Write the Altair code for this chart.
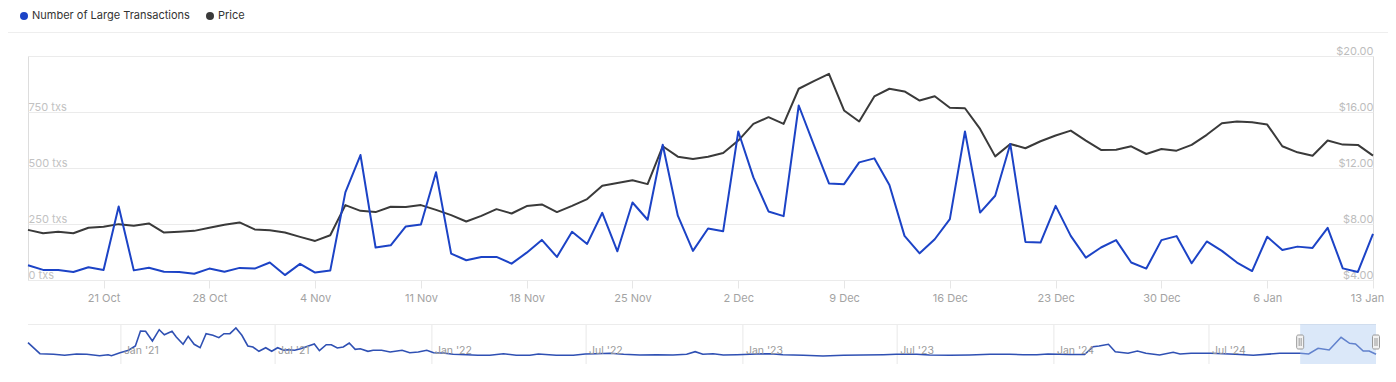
import altair as alt
import pandas as pd

# ---------------- data ----------------
dates = pd.date_range("2024-10-16", "2025-01-13", freq="D").strftime("%Y-%m-%d").tolist()

large_tx = [66, 45, 45, 36, 57, 45, 328, 43, 55, 37,
            36, 28, 51, 37, 54, 51, 78, 22, 72, 33,
            42, 391, 558, 145, 155, 239, 248, 481, 118, 88,
            103, 103, 73, 122, 179, 103, 215, 161, 300, 128,
            346, 269, 604, 287, 130, 230, 218, 663, 458, 306,
            285, 779, 603, 431, 428, 525, 543, 424, 197, 119,
            182, 272, 663, 301, 376, 607, 170, 167, 331, 197,
            100, 145, 178, 78, 51, 178, 196, 75, 172, 130,
            78, 40, 193, 134, 149, 143, 233, 52, 36, 206]

price = [7.58, 7.34, 7.44, 7.34, 7.73, 7.80, 7.99, 7.87, 8.04, 7.39,
         7.44, 7.51, 7.73, 7.94, 8.11, 7.61, 7.56, 7.39, 7.08, 6.79,
         7.20, 9.35, 8.94, 8.85, 9.23, 9.21, 9.35, 9.01, 8.63, 8.18,
         8.58, 9.06, 8.75, 9.28, 9.40, 8.85, 9.30, 9.78, 10.73, 10.93,
         11.12, 10.85, 13.55, 12.81, 12.64, 12.81, 13.07, 13.96, 15.15, 15.63,
         15.15, 17.66, 18.21, 18.73, 16.11, 15.32, 17.11, 17.66, 17.47, 16.82,
         17.13, 16.30, 16.27, 14.79, 12.83, 13.72, 13.41, 13.91, 14.32, 14.67,
         13.96, 13.29, 13.31, 13.55, 13.00, 13.36, 13.24, 13.65, 14.37, 15.20,
         15.32, 15.27, 15.10, 13.55, 13.12, 12.88, 13.96, 13.67, 13.65, 12.88]

series_names = ["Number of Large Transactions", "Price"]
series_colors = ["#1c43c6", "#3a3a3a"]

x_tick_dates = ["2024-10-21", "2024-10-28", "2024-11-04", "2024-11-11", "2024-11-18",
                "2024-11-25", "2024-12-02", "2024-12-09", "2024-12-16", "2024-12-23",
                "2024-12-30", "2025-01-06", "2025-01-13"]
tx_ticks = [0, 250, 500, 750, 1000]
price_ticks = [4, 8, 12, 16, 20]

# navigator (full history, coarse)
nav_start = "2020-09-14"
nav_end = "2025-01-13"
nav_offset_days = [0, 14, 30, 43, 57, 69, 84, 94, 98, 108,
                   118, 126, 132, 138, 146, 154, 160, 169, 174, 182,
                   188, 195, 202, 209, 217, 224, 230, 237, 244, 251,
                   258, 264, 271, 279, 286, 293, 300, 305, 313, 320,
                   329, 336, 342, 350, 356, 363, 370, 377, 384, 390,
                   399, 405, 415, 425, 439, 448, 458, 468, 476, 487,
                   499, 515, 528, 542, 558, 573, 589, 599, 620, 640,
                   654, 667, 683, 699, 718, 738, 757, 773, 783, 792,
                   804, 816, 832, 855, 871, 886, 910, 933, 957, 980,
                   1004, 1019, 1043, 1058, 1082, 1105, 1129, 1152, 1168, 1184,
                   1197, 1223, 1240, 1250, 1257, 1268, 1276, 1291, 1302, 1312,
                   1328, 1344, 1352, 1365, 1388, 1417, 1438, 1469, 1493, 1503,
                   1514, 1527, 1541, 1551, 1558, 1567, 1574, 1582]
nav_value = [592, 152, 128, 88, 140, 128, 72, 112, 72, 192,
             288, 460, 1060, 1048, 660, 1112, 912, 1048, 820, 528,
             848, 528, 392, 952, 888, 792, 952, 952, 1180, 888,
             460, 420, 248, 392, 248, 392, 288, 312, 288, 352,
             460, 540, 272, 512, 512, 380, 420, 580, 328, 352,
             248, 288, 288, 220, 288, 192, 220, 288, 192, 180,
             128, 112, 88, 88, 152, 88, 88, 140, 88, 88,
             140, 152, 168, 128, 100, 112, 100, 128, 232, 128,
             152, 100, 112, 140, 152, 112, 88, 60, 88, 100,
             112, 128, 128, 100, 88, 100, 128, 128, 112, 112,
             140, 120, 120, 432, 460, 528, 232, 168, 260, 168,
             100, 208, 140, 168, 168, 128, 88, 168, 168, 140,
             368, 300, 808, 568, 540, 260, 260, 128]
nav_tick_dates = ["2021-01-01", "2021-07-01", "2022-01-01", "2022-07-01",
                  "2023-01-01", "2023-07-01", "2024-01-01", "2024-07-01"]
nav_tick_labels = ["Jan '21", "Jul '21", "Jan '22", "Jul '22",
                   "Jan '23", "Jul '23", "Jan '24", "Jul '24"]


def dt(s):
    y, m, d = (int(v) for v in s.split("-"))
    return alt.DateTime(year=y, month=m, date=d, utc=True)


FONT = "Inter"
df = pd.DataFrame({"date": dates, "tx": large_tx, "price": price})
nav_dates = (pd.Timestamp(nav_start) + pd.to_timedelta(nav_offset_days, unit="D")).strftime("%Y-%m-%d").tolist()
nav_df = pd.DataFrame({"d": nav_dates, "v": nav_value})
nav_ticks_df = pd.DataFrame({"d": nav_tick_dates, "label": nav_tick_labels})
sel_df = pd.DataFrame({"s": [dates[0]], "e": [dates[-1]]})
handle_df = pd.DataFrame({"d": [dates[0], dates[-1]]})

W, H = 1345, 224
last_tick_ms = int(pd.Timestamp(x_tick_dates[-1], tz="UTC").value // 10**6)

# ---------------- main chart ----------------
x_main = alt.X(
    "date:T",
    title=None,
    scale=alt.Scale(type="utc", domain=[dt(dates[0]), dt(dates[-1])], nice=False),
    axis=alt.Axis(values=[dt(s) for s in x_tick_dates],
                  labelExpr="utcFormat(datum.value, '%-d %b')",
                  labelColor="#a3a3a3", labelFontSize=11, labelFont=FONT, labelPadding=4,
                  labelOffset={"condition": {"test": f"datum.value >= {last_tick_ms}", "value": -6},
                               "value": 0},
                  tickColor="#e6e6e6", tickSize=8, domain=False, grid=False,
                  labelFlush=False, labelOverlap=False),
)

price_line = alt.Chart(df).mark_line(color=series_colors[1], strokeWidth=2, strokeJoin="round").encode(
    x=x_main,
    y=alt.Y("price:Q", title=None,
            scale=alt.Scale(domain=[4, 20], nice=False, zero=False),
            axis=alt.Axis(orient="right", values=price_ticks, format="$.2f", grid=False,
                          domain=False, ticks=False, tickSize=0, labelPadding=0,
                          labelAlign="right", labelBaseline="alphabetic", labelOffset=-2,
                          labelColor="#bdbdbd", labelFontSize=11, labelFont=FONT,
                          labelFlush=False, labelOverlap=False)),
)

tx_line = alt.Chart(df).mark_line(color=series_colors[0], strokeWidth=2, strokeJoin="round").encode(
    x=x_main,
    y=alt.Y("tx:Q", title=None,
            scale=alt.Scale(domain=[0, 1000], nice=False, zero=False),
            axis=alt.Axis(orient="left", values=tx_ticks,
                          labelExpr="datum.value >= 1000 ? '' : datum.value + ' txs'",
                          grid=True, gridColor="#ebebeb", domain=False, ticks=False, tickSize=0,
                          labelPadding=0, labelAlign="left", labelBaseline="alphabetic",
                          labelOffset=-2, labelColor="#c2c2c2", labelFontSize=11, labelFont=FONT,
                          labelFlush=False, labelOverlap=False)),
)

main = alt.layer(price_line, tx_line).resolve_scale(y="independent")

# ---------------- navigator ----------------
nav_x_scale = alt.Scale(type="utc", domain=[dt(nav_start), dt(nav_end)], range=[0, 1348], nice=False)
nav_y_scale = alt.Scale(domain=[-260, 1340], range=[308, 268], nice=False, zero=False)

nav_grid = alt.Chart(nav_ticks_df).mark_rule(color="#e8e8e8", strokeWidth=1).encode(
    x=alt.X("d:T", scale=nav_x_scale, axis=None), y=alt.value(268), y2=alt.value(308))
nav_top = alt.Chart(pd.DataFrame({"k": [0]})).mark_rule(color="#ececec", strokeWidth=1).encode(
    x=alt.value(0), x2=alt.value(1348), y=alt.value(268.5))
nav_line = alt.Chart(nav_df).mark_line(color="#2f50b3", strokeWidth=1.6).encode(
    x=alt.X("d:T", scale=nav_x_scale, axis=None),
    y=alt.Y("v:Q", scale=nav_y_scale, axis=None))
nav_sel = alt.Chart(sel_df).mark_rect(color="#a9c8f0", opacity=0.42).encode(
    x=alt.X("s:T", scale=nav_x_scale, axis=None), x2="e:T", y=alt.value(268), y2=alt.value(308))
nav_handles = alt.Chart(handle_df).mark_rect(
    fill="#f2f2f2", stroke="#999999", strokeWidth=1, cornerRadius=1.5, xOffset=-3.5, x2Offset=3.5
).encode(x=alt.X("d:T", scale=nav_x_scale, axis=None), x2="d:T", y=alt.value(279), y2=alt.value(293))
nav_handle_l1 = alt.Chart(handle_df).mark_rule(color="#999999", strokeWidth=1, xOffset=-1).encode(
    x=alt.X("d:T", scale=nav_x_scale, axis=None), y=alt.value(282), y2=alt.value(290))
nav_handle_l2 = alt.Chart(handle_df).mark_rule(color="#999999", strokeWidth=1, xOffset=1).encode(
    x=alt.X("d:T", scale=nav_x_scale, axis=None), y=alt.value(282), y2=alt.value(290))
nav_labels = alt.Chart(nav_ticks_df).mark_text(
    align="left", baseline="middle", dx=3, fontSize=10.5, font=FONT, color="#9a9a9a"
).encode(x=alt.X("d:T", scale=nav_x_scale, axis=None), y=alt.value(295), text="label:N")

nav = alt.layer(nav_grid, nav_top, nav_line, nav_sel, nav_handles, nav_handle_l1,
                nav_handle_l2, nav_labels)

# ---------------- legend (manual) and frame ----------------
one = pd.DataFrame({"label": [series_names[0]]})
two = pd.DataFrame({"label": [series_names[1]]})
leg_dot1 = alt.Chart(one).mark_circle(size=64, color=series_colors[0], opacity=1).encode(
    x=alt.value(-4), y=alt.value(-40))
leg_txt1 = alt.Chart(one).mark_text(align="left", baseline="middle", fontSize=11, font=FONT,
                                    color="#333333").encode(x=alt.value(4), y=alt.value(-40), text="label:N")
leg_dot2 = alt.Chart(two).mark_circle(size=64, color=series_colors[1], opacity=1).encode(
    x=alt.value(182), y=alt.value(-40))
leg_txt2 = alt.Chart(two).mark_text(align="left", baseline="middle", fontSize=11, font=FONT,
                                    color="#333333").encode(x=alt.value(190), y=alt.value(-40), text="label:N")
sep = alt.Chart(pd.DataFrame({"k": [0]})).mark_rule(color="#eeeeee", strokeWidth=1).encode(
    x=alt.value(-20), x2=alt.value(1360), y=alt.value(-23.5))

chart = alt.layer(
    sep, main, nav, leg_dot1, leg_txt1, leg_dot2, leg_txt2
).resolve_scale(x="independent", y="independent").properties(
    width=W, height=H,
    autosize=alt.AutoSizeParams(type="none"),
    padding={"left": 20, "top": 48, "right": 15, "bottom": 94},
).configure_view(strokeWidth=0).configure(background="white")

chart.save("out.html", embed_options={"renderer": "svg", "actions": False})
